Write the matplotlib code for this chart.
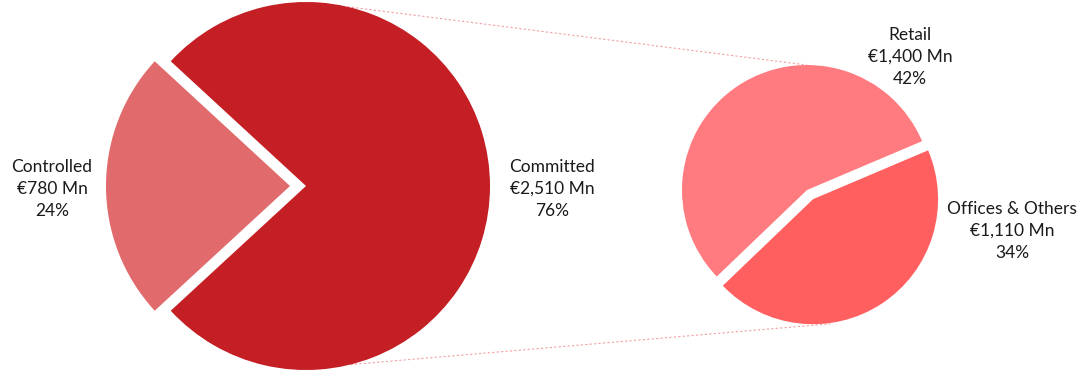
import numpy as np
import matplotlib
matplotlib.use("Agg")
import matplotlib.pyplot as plt

plt.rcParams['font.family'] = ['Lato', 'DejaVu Sans']
plt.rcParams['font.size'] = 12.5

# data
main_labels = ['Committed', 'Controlled']
main_values = [2510, 780]
main_pct = [76, 24]
main_colors = ['#C41F25', '#E06A6C']

sub_labels = ['Retail', 'Offices & Others']
sub_values = [1400, 1110]
sub_pct = [42, 34]
sub_colors = ['#FF7B7F', '#FF5F5F']

W, H = 1083, 374
fig = plt.figure(figsize=(W / 100, H / 100), dpi=100)
ax = fig.add_axes([0, 0, 1, 1])

# big pie (explode is in data units here, i.e. pixels)
c1 = (306, H - 186)
r1 = 184
ctrl_share = main_values[1] / sum(main_values)
start1 = 180 + ctrl_share * 360 / 2
ax.pie(main_values, colors=main_colors, startangle=start1, counterclock=True,
       explode=[0, 16], center=c1, radius=r1, frame=True,
       wedgeprops=dict(linewidth=0))

# small pie
c2 = (807, H - 190)
r2 = 125
ax.pie(sub_values, colors=sub_colors, startangle=23, counterclock=True,
       explode=[0, 11], center=c2, radius=r2, frame=True,
       wedgeprops=dict(linewidth=0))
ax.set_xlim(0, W)
ax.set_ylim(0, H)
ax.set_aspect('equal')
ax.axis('off')

# connector lines
def on_circle(c, r, ang):
    a = np.deg2rad(ang)
    return c[0] + r * np.cos(a), c[1] + r * np.sin(a)

p1 = on_circle(c1, r1, 77)
p2 = on_circle(c2, r2, 90)
ax.plot([p1[0], p2[0]], [p1[1], p2[1]], color='#F2A0A4', lw=0.8,
        ls=(0, (2, 2)), zorder=0)
p3 = on_circle(c1, r1, -76)
p4 = on_circle((c2[0] + 6, c2[1] - 10), r2, -82)
ax.plot([p3[0], p4[0]], [p3[1], p4[1]], color='#F2A0A4', lw=0.8,
        ls=(0, (2, 2)), zorder=0)

def fmt(name, v, p):
    return f"{name}\n€{v:,} Mn\n{p}%"

txt = dict(ha='center', va='center', linespacing=1.45, color='#1a1a1a')
ax.text(552, H - 189, fmt(main_labels[0], main_values[0], main_pct[0]), **txt)
ax.text(52, H - 189, fmt(main_labels[1], main_values[1], main_pct[1]), **txt)
ax.text(910, H - 57, fmt(sub_labels[0], sub_values[0], sub_pct[0]), **txt)
ax.text(1012, H - 231, fmt(sub_labels[1], sub_values[1], sub_pct[1]), **txt)

fig.savefig('out.png', dpi=100)
